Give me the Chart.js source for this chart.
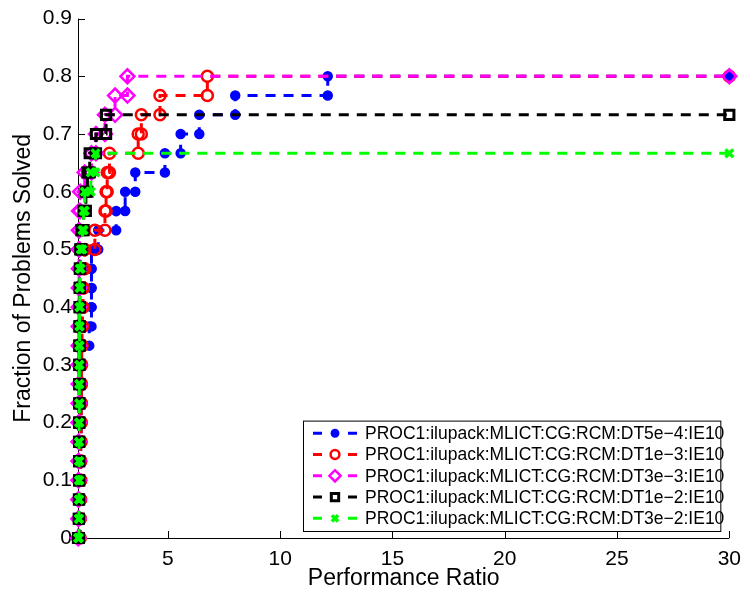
<!DOCTYPE html>
<html><head><meta charset="utf-8">
<script src="https://cdn.jsdelivr.net/npm/chart.js@4.4.1/dist/chart.umd.min.js"></script>
<style>html,body{margin:0;padding:0;background:#fff;}</style>
</head><body>
<canvas id="c" width="750" height="592" style="display:block;width:750px;height:592px"></canvas>
<script>
// ---- data ----
const seriesLabels = [
  'PROC1:ilupack:MLICT:CG:RCM:DT5e\u22124:IE10',
  'PROC1:ilupack:MLICT:CG:RCM:DT1e\u22123:IE10',
  'PROC1:ilupack:MLICT:CG:RCM:DT3e\u22123:IE10',
  'PROC1:ilupack:MLICT:CG:RCM:DT1e\u22122:IE10',
  'PROC1:ilupack:MLICT:CG:RCM:DT3e\u22122:IE10'
];
const nProblems = 30;
const xStart = 1;
const xEnd = 30;
// sorted performance ratios of the solved problems (one per step of 1/30)
const ratiosDT5e4 = [1.10,1.10,1.12,1.12,1.12,1.14,1.14,1.15,1.15,1.16,1.50,1.60,1.60,1.60,1.60,1.90,2.70,3.10,3.55,4.87,5.57,6.40,8.00,12.12];
const ratiosDT1e3 = [1.10,1.10,1.12,1.12,1.12,1.14,1.14,1.15,1.15,1.16,1.18,1.20,1.22,1.24,1.30,1.75,2.20,2.25,2.30,2.40,3.68,3.82,4.65,6.76];
const ratiosDT3e3 = [1.02,1.02,1.02,1.03,1.03,1.03,1.03,1.04,1.04,1.04,1.04,1.04,1.05,1.05,1.05,1.05,1.05,1.10,1.30,1.60,1.80,2.20,2.65,3.20];
const ratiosDT1e2 = [1.04,1.04,1.05,1.05,1.05,1.05,1.06,1.06,1.06,1.06,1.07,1.07,1.08,1.08,1.10,1.15,1.25,1.35,1.42,1.52,1.80,2.25];
const ratiosDT3e2 = [1.04,1.04,1.05,1.05,1.05,1.05,1.06,1.06,1.06,1.06,1.07,1.07,1.08,1.08,1.12,1.20,1.25,1.30,1.57,1.78];
const xTickValues = [5,10,15,20,25,30];
const yTickValues = [0,0.1,0.2,0.3,0.4,0.5,0.6,0.7,0.8,0.9];

const FONT = "'Liberation Sans', Arial, Helvetica, sans-serif";

function staircase(r) {
  const pts = [{x: xStart, y: 0}];
  r.forEach((v, i) => {
    pts.push({x: v, y: i / nProblems});
    pts.push({x: v, y: (i + 1) / nProblems});
  });
  pts.push({x: xEnd, y: r.length / nProblems});
  return pts;
}

const styles = [
  {color:'#0000ff', pointStyle:'circle',   radius:4,   bw:2.5, fill:'#0000ff'},
  {color:'#ff0000', pointStyle:'circle',   radius:5.5, bw:2.5, fill:'rgba(0,0,0,0)'},
  {color:'#ff00ff', pointStyle:'rectRot',  radius:7,   bw:2.5, fill:'rgba(0,0,0,0)'},
  {color:'#000000', pointStyle:'rect',     radius:6.5, bw:3,   fill:'rgba(0,0,0,0)'},
  {color:'#00ff00', pointStyle:'crossRot', radius:5.5, bw:3.5, fill:'#00ff00'}
];
const allRatios = [ratiosDT5e4, ratiosDT1e3, ratiosDT3e3, ratiosDT1e2, ratiosDT3e2];

const datasets = allRatios.map((r, i) => ({
  label: seriesLabels[i],
  data: staircase(r),
  borderColor: styles[i].color,
  borderWidth: 3,
  borderDash: [10, 8],
  fill: false,
  tension: 0,
  clip: false,
  pointStyle: styles[i].pointStyle,
  pointRadius: styles[i].radius,
  pointBorderWidth: styles[i].bw,
  pointBorderColor: styles[i].color,
  pointBackgroundColor: styles[i].fill,
  pointHoverRadius: styles[i].radius,
  order: allRatios.length - i
}));

const axesPlugin = {
  id: 'matlabAxes',
  beforeDatasetsDraw(chart) {
    const {ctx, chartArea: a, scales} = chart;
    ctx.save();
    ctx.strokeStyle = '#000';
    ctx.lineWidth = 1;
    ctx.setLineDash([]);
    ctx.beginPath();
    ctx.moveTo(a.left + 0.5, a.top);
    ctx.lineTo(a.left + 0.5, a.bottom + 0.5);
    ctx.lineTo(a.right, a.bottom + 0.5);
    yTickValues.forEach(v => {
      const y = Math.round(scales.y.getPixelForValue(v)) + 0.5;
      ctx.moveTo(a.left, y); ctx.lineTo(a.left + 7, y);
    });
    xTickValues.forEach(v => {
      const x = Math.round(scales.x.getPixelForValue(v)) + 0.5;
      ctx.moveTo(x, a.bottom); ctx.lineTo(x, a.bottom - 7);
    });
    ctx.stroke();
    ctx.restore();
  },
  afterDraw(chart) {
    const {ctx, chartArea: a} = chart;
    const box = {l: a.left + 225, t: a.top + 402, r: a.right - 9, b: a.bottom - 7};
    ctx.save();
    ctx.fillStyle = '#fff';
    ctx.fillRect(box.l, box.t, box.r - box.l, box.b - box.t);
    ctx.strokeStyle = '#000';
    ctx.lineWidth = 1;
    ctx.setLineDash([]);
    ctx.strokeRect(box.l + 0.5, box.t + 0.5, box.r - box.l, box.b - box.t);
    const rowH = (box.b - box.t - 4) / seriesLabels.length;
    ctx.font = '17.5px ' + FONT;
    ctx.textBaseline = 'middle';
    seriesLabels.forEach((lab, i) => {
      const y = box.t + 2 + rowH * (i + 0.5);
      const st = styles[i];
      ctx.strokeStyle = st.color;
      ctx.lineWidth = 3;
      ctx.beginPath();
      ctx.moveTo(box.l + 10, y); ctx.lineTo(box.l + 19, y);
      ctx.moveTo(box.l + 45, y); ctx.lineTo(box.l + 54, y);
      ctx.stroke();
      ctx.fillStyle = st.fill;
      ctx.lineWidth = st.bw;
      Chart.helpers.drawPoint(ctx, {pointStyle: st.pointStyle, radius: st.radius * 0.8, borderWidth: st.bw, rotation: 0}, box.l + 32, y);
      ctx.fillStyle = '#000';
      ctx.fillText(lab, box.l + 62, y + 1);
    });
    ctx.restore();
  }
};

new Chart(document.getElementById('c'), {
  type: 'line',
  data: {datasets},
  options: {
    responsive: false,
    animation: false,
    devicePixelRatio: 1,
    layout: {padding: {top: 18, right: 13, left: 0, bottom: 0}},
    plugins: {legend: {display: false}, tooltip: {enabled: false}},
    elements: {line: {borderCapStyle: 'butt'}},
    scales: {
      x: {
        type: 'linear', min: xStart, max: xEnd,
        grid: {display: false, drawTicks: false},
        border: {display: false},
        afterBuildTicks: s => { s.ticks = xTickValues.map(v => ({value: v})); },
        afterFit: s => { s.height = 54; },
        ticks: {font: {family: FONT, size: 21}, color: '#000', padding: 9, maxRotation: 0, autoSkip: false,
                callback: v => String(v)},
        title: {display: true, text: 'Performance Ratio', font: {family: FONT, size: 23}, color: '#000',
                padding: {top: 0, bottom: 0}}
      },
      y: {
        type: 'linear', min: 0, max: 0.9,
        grid: {display: false, drawTicks: false},
        border: {display: false},
        afterBuildTicks: s => { s.ticks = yTickValues.map(v => ({value: v})); },
        afterFit: s => { s.width = 78; },
        ticks: {font: {family: FONT, size: 21}, color: '#000', padding: 6, autoSkip: false,
                callback: v => String(+(+v).toFixed(1))},
        title: {display: true, text: 'Fraction of Problems Solved', font: {family: FONT, size: 23}, color: '#000',
                padding: {top: 10, bottom: 0}}
      }
    }
  },
  plugins: [axesPlugin]
});
</script>
</body></html>
